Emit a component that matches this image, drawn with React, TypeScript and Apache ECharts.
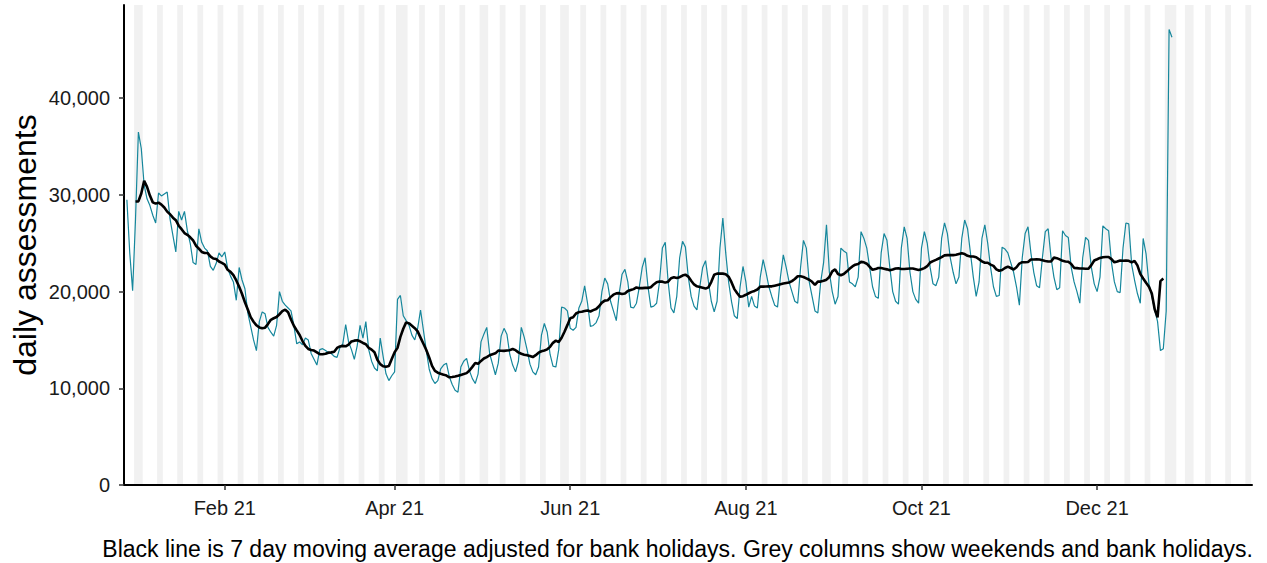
import React, { useEffect, useRef } from "react";
import * as echarts from "echarts";

// ---- data ----
const startDate = "2020-12-29"; // first daily value
// daily assessments, one value per day from 29 Dec 2020 to 27 Dec 2021
const dailyAssessments: number[] = [
  // Tue 29 Dec - Fri 1 Jan
  29500, 24000, 20100, 27500,
  // weeks Sat..Fri
  36500, 34800, 31000, 29600, 28900, 27900, 27100, // Jan 2
  30200, 29900, 30100, 30300, 27500, 25800, 24100, // Jan 9
  28300, 27400, 28300, 26300, 25000, 23000, 22800, // Jan 16
  26500, 25100, 24500, 24200, 22600, 22200, 22900, // Jan 23
  24000, 23600, 24100, 22400, 21600, 21000, 19100, // Jan 30
  22500, 21200, 20300, 17800, 16400, 15000, 13900, // Feb 6
  16900, 17900, 17700, 16300, 15800, 15400, 16500, // Feb 13
  20000, 19000, 18600, 18300, 18000, 16500, 14600, // Feb 20
  14800, 14500, 15200, 15000, 13600, 13000, 12400, // Feb 27
  14000, 14100, 13900, 13700, 13600, 13300, 13200, // Mar 6
  14200, 14600, 16600, 14800, 14000, 13000, 14400, // Mar 13
  16500, 15200, 16900, 14000, 12800, 12100, 11800, // Mar 20
  15200, 13300, 11500, 10800, 11300, 11700, 19200, // Mar 27
  19600, 17500, 17000, 16500, 15500, 15000, 16200, // Apr 3
  18100, 16000, 13900, 12000, 11000, 10500, 10800, // Apr 10
  12000, 12400, 12600, 11200, 10400, 9800, 9600, // Apr 17
  12200, 12800, 13100, 11800, 11000, 10500, 11500, // Apr 24
  14800, 15600, 16300, 13600, 12500, 11400, 12600, // May 1
  15400, 16200, 15600, 13500, 12400, 11700, 12800, // May 8
  16300, 15300, 14000, 12500, 11700, 11400, 12200, // May 15
  15500, 16700, 15800, 13500, 12300, 12200, 14000, // May 22
  18400, 18300, 18000, 16200, 16000, 16300, 18300, // May 29
  19000, 20600, 18800, 16400, 16500, 16800, 17500, // Jun 5
  20000, 21400, 20800, 19000, 18000, 17000, 19800, // Jun 12
  21800, 22300, 21000, 18400, 18300, 18800, 20500, // Jun 19
  22500, 23500, 20500, 18400, 18500, 18800, 21000, // Jun 26
  24500, 25100, 21000, 18300, 17800, 19500, 23500, // Jul 3
  25200, 24600, 21500, 19500, 18500, 18100, 20500, // Jul 10
  22500, 23200, 21000, 19000, 17900, 19000, 24500, // Jul 17
  27600, 24000, 21000, 19000, 17500, 17200, 20500, // Jul 24
  22600, 21000, 18400, 19500, 18500, 18300, 21500, // Jul 31
  23300, 22000, 20500, 19500, 18600, 18400, 21500, // Aug 7
  23800, 22500, 21000, 20000, 19000, 18800, 22500, // Aug 14
  25300, 24500, 21000, 19500, 18000, 17800, 21000, // Aug 21
  23000, 26900, 22000, 20000, 18700, 19500, 24500, // Aug 28
  24200, 24000, 21000, 20800, 20500, 21500, 26200, // Sep 4
  25500, 24500, 22500, 20500, 19500, 19300, 24000, // Sep 11
  26000, 25300, 22500, 20000, 19000, 18700, 24500, // Sep 18
  26700, 25500, 22000, 20000, 19200, 18800, 24500, // Sep 25
  26200, 25000, 22500, 20800, 20600, 21500, 25500, // Oct 2
  27100, 26000, 23500, 22000, 20800, 21500, 25500, // Oct 9
  27400, 26500, 24000, 21500, 19500, 21000, 25500, // Oct 16
  26900, 25000, 22500, 20500, 19500, 19600, 24600, // Oct 23
  24400, 24000, 23000, 22000, 20500, 18600, 23500, // Oct 30
  26000, 26700, 24000, 22000, 20600, 20400, 23500, // Nov 6
  26200, 26500, 23500, 21500, 20200, 20400, 26300, // Nov 13
  25800, 25600, 22500, 21000, 20000, 18800, 23500, // Nov 20
  25600, 25300, 22500, 20800, 20000, 21500, 26800, // Nov 27
  26500, 26300, 23000, 21000, 20000, 19900, 24500, // Dec 4
  27100, 27000, 22800, 21200, 19800, 18800, 25500, // Dec 11
  23900, 20800, 19500, 18100, 16900, 13900, 14100, // Dec 18
  18000, 47100, 46300, // Dec 25 - 27
];
const bankHolidays = [
  "2021-01-01", "2021-04-02", "2021-04-05", "2021-05-03", "2021-05-31",
  "2021-08-30", "2021-12-27", "2021-12-28", "2022-01-03",
];
const columnsFrom = "2021-01-01";
const columnsTo = "2022-01-23";
const xTickDates = ["2021-02-01", "2021-04-01", "2021-06-01", "2021-08-01", "2021-10-01", "2021-12-01"];
const xTickLabels = ["Feb 21", "Apr 21", "Jun 21", "Aug 21", "Oct 21", "Dec 21"];
const yTicks = [0, 10000, 20000, 30000, 40000];
const captionText =
  "Black line is 7 day moving average adjusted for bank holidays. Grey columns show weekends and bank holidays.";
const yTitle = "daily assessments";

// ---- helpers ----
const DAY = 86400000;
const ORIGIN = Date.UTC(2021, 0, 1);
const dayOf = (s: string) => {
  const [y, m, d] = s.split("-").map(Number);
  return Math.round((Date.UTC(y, m - 1, d) - ORIGIN) / DAY);
};
const bhSet = new Set(bankHolidays.map(dayOf));

const FONT = '"Liberation Sans", Arial, Helvetica, sans-serif';

export default function App() {
  const ref = useRef<HTMLDivElement>(null);

  useEffect(() => {
    if (!ref.current) return;
    const chart = echarts.init(ref.current, undefined, { renderer: "svg" });

    const off = dayOf(startDate);
    const daily = dailyAssessments.map((v, i) => [off + i, v]);

    // 7 day centred moving average, bank holidays left out of the window
    const ma: number[][] = [];
    for (let i = 3; i < dailyAssessments.length - 3; i++) {
      let s = 0;
      let c = 0;
      for (let j = i - 3; j <= i + 3; j++) {
        if (bhSet.has(off + j)) continue;
        s += dailyAssessments[j];
        c++;
      }
      ma.push([off + i, s / c]);
    }

    // grey columns: weekends and bank holidays
    const areas: any[] = [];
    const a = dayOf(columnsFrom);
    const b = dayOf(columnsTo);
    let runStart: number | null = null;
    for (let d = a; d <= b + 1; d++) {
      const wd = new Date(ORIGIN + d * DAY).getUTCDay();
      const grey = d <= b && (wd === 0 || wd === 6 || bhSet.has(d));
      if (grey && runStart === null) runStart = d;
      if (!grey && runStart !== null) {
        areas.push([{ xAxis: runStart - 0.5 }, { xAxis: d - 1 + 0.5 }]);
        runStart = null;
      }
    }

    const tickVals = xTickDates.map(dayOf);
    const labelFor = (v: number) => {
      const k = tickVals.findIndex((t) => Math.abs(t - v) < 0.01);
      return k >= 0 ? xTickLabels[k] : "";
    };

    chart.setOption({
      animation: false,
      backgroundColor: "#ffffff",
      textStyle: { fontFamily: FONT },
      grid: { left: 124, right: 15, top: 5, bottom: 78, containLabel: false },
      xAxis: {
        type: "value",
        min: -4,
        max: 387.8,
        z: 10,
        splitLine: { show: false },
        axisLine: { show: true, onZero: false, lineStyle: { color: "#000", width: 2 } },
        axisTick: {
          show: true,
          length: 5,
          customValues: tickVals,
          lineStyle: { color: "#333", width: 1.5 },
        },
        axisLabel: {
          customValues: tickVals,
          formatter: (v: number) => labelFor(v),
          fontSize: 20,
          color: "#1a1a1a",
          margin: 13,
          fontFamily: FONT,
        },
      },
      yAxis: {
        type: "value",
        min: 0,
        max: 49640,
        interval: 10000,
        z: 10,
        splitLine: { show: false },
        axisLine: { show: true, onZero: false, lineStyle: { color: "#000", width: 2 } },
        axisTick: {
          show: true,
          length: 5,
          customValues: yTicks,
          lineStyle: { color: "#333", width: 1.5 },
        },
        axisLabel: {
          customValues: yTicks,
          formatter: (v: number) => v.toLocaleString("en-US"),
          fontSize: 20,
          color: "#1a1a1a",
          margin: 14,
          fontFamily: FONT,
        },
      },
      graphic: [
        {
          type: "text",
          x: 25,
          y: 245,
          rotation: Math.PI / 2,
          style: {
            text: yTitle,
            fontSize: 32,
            fontFamily: FONT,
            fill: "#000",
            align: "center",
            verticalAlign: "middle",
          },
        },
        {
          type: "text",
          x: 1253,
          y: 549,
          style: {
            text: captionText,
            fontSize: 23,
            fontFamily: FONT,
            fill: "#000",
            align: "right",
            verticalAlign: "middle",
          },
        },
      ],
      series: [
        {
          type: "line",
          name: "columns",
          data: [],
          silent: true,
          z: 1,
          markArea: {
            silent: true,
            itemStyle: { color: "#f1f1f1" },
            data: areas,
          },
        },
        {
          type: "line",
          name: "daily",
          data: daily,
          showSymbol: false,
          symbol: "none",
          silent: true,
          z: 2,
          lineStyle: { color: "#16879c", width: 1.2 },
        },
        {
          type: "line",
          name: "7 day average",
          data: ma,
          showSymbol: false,
          symbol: "none",
          silent: true,
          z: 3,
          lineStyle: { color: "#000", width: 2.6 },
        },
      ],
    });

    return () => chart.dispose();
  }, []);

  return (
    <div
      ref={ref}
      style={{ position: "fixed", left: 0, top: 0, width: 1267, height: 563, background: "#fff" }}
    />
  );
}
